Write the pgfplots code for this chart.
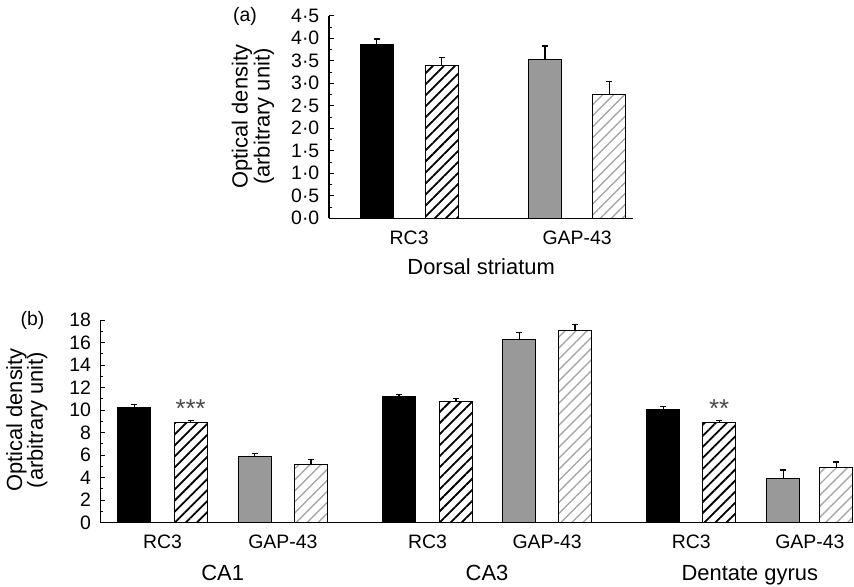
\documentclass[border=0pt]{standalone}
\usepackage{fontspec}
\setmainfont{Liberation Sans}
\usepackage{pgfplots}
\pgfplotsset{compat=1.18}
\usetikzlibrary{patterns.meta}

\definecolor{midgray}{HTML}{999999}
\definecolor{hatchgray}{HTML}{A8A8A8}

\tikzset{ylab/.style={rotate=90, anchor=base, inner sep=0pt, font=\fontsize{22}{21}\selectfont}}

\pgfplotsset{
  panel/.style={
    scale only axis, axis lines=left, axis line style={-, line width=1.1bp},
    tick align=inside, ytick pos=left, xtick style={draw=none},
    major tick length=4.5bp, minor tick length=2.7bp, minor y tick num=1,
    tick style={black, line width=0.9bp},
    tick label style={font=\fontsize{19.5}{22}\selectfont},
    yticklabel style={anchor=east, inner sep=0pt, xshift=-9.5bp},
    xticklabel style={anchor=base, inner sep=0pt, yshift=-26bp},
    label style={font=\fontsize{22}{21}\selectfont},
    clip=false,
  },
  bar/.style={ybar, bar shift=0pt, bar width=33, line width=0.9bp, draw=black,
    error bars/y dir=plus, error bars/y explicit, error bars/error mark=|,
    error bars/error bar style={line width=1.3bp, black},
    error bars/error mark options={black, line width=1.3bp, mark size=3bp}},
  solidblack/.style={fill=black},
  solidgray/.style={fill=midgray},
  hatchdark/.style={pattern={Lines[angle=45,distance=7.8bp,line width=1.8bp]}, pattern color=black},
  hatchlight/.style={pattern={Lines[angle=45,distance=7.8bp,line width=1.4bp]}, pattern color=hatchgray},
}

\begin{document}
\begin{tikzpicture}
\useasboundingbox (0,0) rectangle (854bp,587bp);

% (a) dorsal striatum
\begin{axis}[panel, at={(329bp,368.7bp)}, anchor=south west,
  width=304.3bp, height=202.6bp,
  xmin=0, xmax=304.3, ymin=0, ymax=4.5,
  ytick={0,0.5,1,1.5,2,2.5,3,3.5,4,4.5},
  yticklabels={0·0,0·5,1·0,1·5,2·0,2·5,3·0,3·5,4·0,4·5},
  xtick={80.15,248.1}, xticklabels={RC3,GAP-43},
  xlabel={Dorsal striatum},
  xlabel style={at={(axis description cs:0.5,0)}, anchor=base, inner sep=0pt, yshift=-56bp},
]
\addplot[bar, solidblack] coordinates {(47.8,3.86) +- (0,0.12)};
\addplot[bar, hatchdark] coordinates {(112.5,3.40) +- (0,0.17)};
\addplot[bar, solidgray] coordinates {(216,3.52) +- (0,0.31)};
\addplot[bar, hatchlight] coordinates {(280.2,2.75) +- (0,0.29)};
\node[ylab] at (rel axis cs:-0.2678,0.502) {Optical density};
\node[ylab] at (rel axis cs:-0.195,0.502) {(arbitrary unit)};
\node[font=\fontsize{19.5}{22}\selectfont] at (rel axis cs:-0.276,0.994) {(a)};
\end{axis}

% (b) hippocampus
\begin{axis}[panel, at={(100.7bp,64.3bp)}, anchor=south west,
  width=752.3bp, height=202.7bp,
  xmin=0, xmax=752.3, ymin=0, ymax=18,
  ytick={0,2,4,6,8,10,12,14,16,18},
  yticklabels={0,2,4,6,8,10,12,14,16,18},
  xtick={61.8,182.2,326.8,446.4,590.55,709.1},
  xticklabels={RC3,GAP-43,RC3,GAP-43,RC3,GAP-43},
]
\addplot[bar, solidblack] coordinates {
  (33.6,10.21) +- (0,0.27) (298.3,11.25) +- (0,0.12) (562.6,10.07) +- (0,0.23)};
\addplot[bar, hatchdark] coordinates {
  (90,8.88) +- (0,0.21) (355.3,10.78) +- (0,0.27) (618.5,8.88) +- (0,0.18)};
\addplot[bar, solidgray] coordinates {
  (154.1,5.90) +- (0,0.26) (418.5,16.31) +- (0,0.56) (682.6,3.94) +- (0,0.74)};
\addplot[bar, hatchlight] coordinates {
  (210.3,5.21) +- (0,0.42) (474.3,17.09) +- (0,0.53) (735.6,4.92) +- (0,0.47)};
\node[ylab] at (rel axis cs:-0.1045,0.507) {Optical density};
\node[ylab] at (rel axis cs:-0.0767,0.507) {(arbitrary unit)};
\node[font=\fontsize{22}{24}\selectfont, anchor=base, inner sep=0pt] at (axis cs:121.95,0) [yshift=-57.7bp] {CA1};
\node[font=\fontsize{22}{24}\selectfont, anchor=base, inner sep=0pt] at (axis cs:386.3,0) [yshift=-57.7bp] {CA3};
\node[font=\fontsize{22}{24}\selectfont, anchor=base, inner sep=0pt] at (axis cs:649.1,0) [yshift=-57.7bp] {Dentate gyrus};
\node[font=\fontsize{26}{30}\selectfont, text=black!70, anchor=base, inner sep=0pt] at (axis cs:90,9.35) {***};
\node[font=\fontsize{26}{30}\selectfont, text=black!70, anchor=base, inner sep=0pt] at (axis cs:618.5,9.35) {**};
\node[font=\fontsize{19.5}{22}\selectfont] at (rel axis cs:-0.0907,0.9975) {(b)};
\end{axis}
\end{tikzpicture}
\end{document}
